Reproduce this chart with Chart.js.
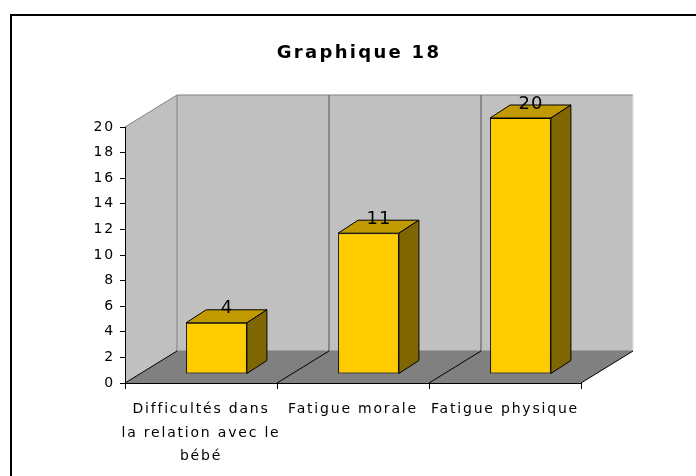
<!DOCTYPE html>
<html>
<head>
<meta charset="utf-8">
<script src="https://cdn.jsdelivr.net/npm/chart.js@4"></script>
<style>
  body { margin: 0; background: #fff; }
</style>
</head>
<body>
<canvas id="graph18" width="696" height="476"></canvas>
<script>
var categories = [["Difficultés dans", "la relation avec le", "bébé"], "Fatigue morale", "Fatigue physique"];
var values = [4, 11, 20];
var yMin = 0, yMax = 20, yStep = 2;
var chartTitle = "Graphique 18";

// fake 3d: depth of the box, where the bars sit in it, depth of a bar
var depth = {x: 52, y: -32};
var barShift = {x: 15.5, y: -9};
var barDepth = {x: 20, y: -13};

function poly(ctx, pts, fill, stroke) {
    ctx.beginPath();
    ctx.moveTo(pts[0][0], pts[0][1]);
    for (var i = 1; i < pts.length; i++) ctx.lineTo(pts[i][0], pts[i][1]);
    ctx.closePath();
    if (fill) { ctx.fillStyle = fill; ctx.fill(); }
    if (stroke) { ctx.strokeStyle = stroke; ctx.lineWidth = 1; ctx.stroke(); }
}

function line(ctx, x1, y1, x2, y2, color) {
    ctx.beginPath();
    ctx.moveTo(x1, y1);
    ctx.lineTo(x2, y2);
    ctx.strokeStyle = color;
    ctx.lineWidth = 1;
    ctx.stroke();
}

var threeD = {
    id: 'threeD',
    beforeDraw: function(chart) {
        var ctx = chart.ctx;
        var a = chart.chartArea;
        var L = a.left, R = a.right, T = a.top, B = a.bottom;
        var dx = depth.x, dy = depth.y;
        var n = categories.length;
        var step = (R - L) / n;

        ctx.save();
        // outer frame (runs off the page on the right and bottom)
        ctx.strokeStyle = '#000';
        ctx.lineWidth = 2;
        ctx.strokeRect(11, 15, 800, 800);

        // side wall, back wall, floor
        poly(ctx, [[L, B], [L, T], [L + dx, T + dy], [L + dx, B + dy]], '#c0c0c0', null);
        poly(ctx, [[L + dx, T + dy], [R + dx, T + dy], [R + dx, B + dy], [L + dx, B + dy]], '#c0c0c0', null);
        poly(ctx, [[L, B], [R, B], [R + dx, B + dy], [L + dx, B + dy]], '#808080', null);

        line(ctx, L, T, L + dx, T + dy, '#808080');
        line(ctx, L + dx, T + dy, R + dx, T + dy, '#808080');
        line(ctx, L + dx, T + dy, L + dx, B + dy, '#808080');
        line(ctx, R + dx, T + dy, R + dx, B + dy, '#e0e0e0');
        line(ctx, L + dx, B + dy, R + dx, B + dy, '#808080');

        for (var i = 0; i <= n; i++) {
            var x = L + i * step;
            line(ctx, x, B, x + dx, B + dy, '#000');
            if (i > 0 && i < n) line(ctx, x + dx, T + dy, x + dx, B + dy, '#505050');
        }

        // title
        ctx.fillStyle = '#000';
        ctx.font = 'bold 18px "DejaVu Sans", sans-serif';
        ctx.letterSpacing = '2.3px';
        ctx.textAlign = 'center';
        ctx.textBaseline = 'middle';
        ctx.fillText(chartTitle, 359, 53);
        ctx.restore();

        ctx.letterSpacing = '1.8px';
    },
    beforeDatasetsDraw: function(chart) {
        chart.ctx.save();
        chart.ctx.translate(barShift.x, barShift.y);
    },
    afterDatasetsDraw: function(chart) {
        var ctx = chart.ctx;
        var meta = chart.getDatasetMeta(0);
        var bx = barDepth.x, by = barDepth.y;
        meta.data.forEach(function(bar, i) {
            var p = bar.getProps(['x', 'y', 'base', 'width'], true);
            var l = p.x - p.width / 2, r = p.x + p.width / 2;
            var t = Math.min(p.y, p.base), b = Math.max(p.y, p.base);
            poly(ctx, [[l, t], [r, t], [r + bx, t + by], [l + bx, t + by]], '#c09a00', '#000');
            poly(ctx, [[r, t], [r + bx, t + by], [r + bx, b + by], [r, b]], '#806600', '#000');

            ctx.fillStyle = '#000';
            ctx.font = '18px "DejaVu Sans", sans-serif';
            ctx.letterSpacing = '1px';
            ctx.textAlign = 'center';
            ctx.textBaseline = 'middle';
            ctx.fillText(String(values[i]), p.x + bx / 2 + 0.5, t + by - 1);
        });
        ctx.restore();
    }
};

Chart.defaults.font.family = '"DejaVu Sans", sans-serif';
Chart.defaults.color = '#000';

new Chart(document.getElementById('graph18'), {
    type: 'bar',
    data: {
        labels: categories,
        datasets: [{
            data: values,
            backgroundColor: '#ffcc00',
            borderColor: '#000',
            borderWidth: 1,
            borderSkipped: false,
            barPercentage: 0.4,
            categoryPercentage: 1
        }]
    },
    options: {
        responsive: false,
        animation: false,
        layout: { padding: { left: 80, right: 115, top: 127, bottom: 0 } },
        plugins: {
            legend: { display: false },
            tooltip: { enabled: false }
        },
        scales: {
            x: {
                grid: { drawOnChartArea: false, tickLength: 6, color: '#000' },
                border: { display: true, color: '#000' },
                ticks: { font: { size: 14, lineHeight: 1.68 }, padding: 9, maxRotation: 0, autoSkip: false },
                afterFit: function(scale) { scale.height = 93; }
            },
            y: {
                min: yMin,
                max: yMax,
                grid: { drawOnChartArea: false, tickLength: 5, color: '#000' },
                border: { display: true, color: '#000' },
                ticks: { stepSize: yStep, font: { size: 14 }, padding: 5 },
                afterFit: function(scale) { scale.width = 45; }
            }
        }
    },
    plugins: [threeD]
});
</script>
</body>
</html>
